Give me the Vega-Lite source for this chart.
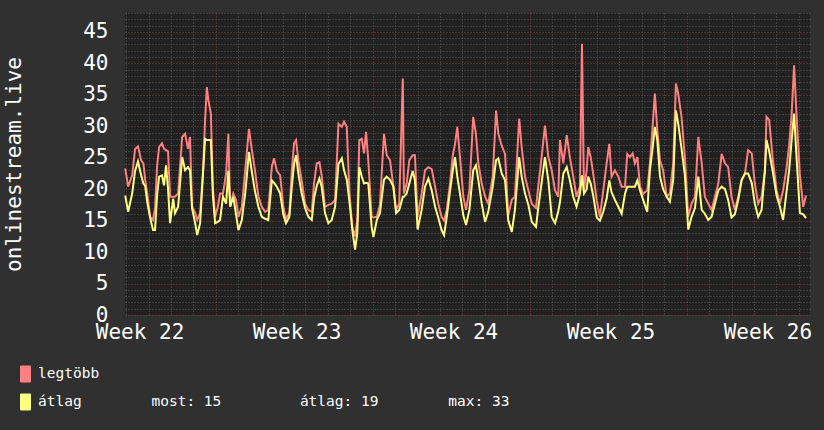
{
  "$schema": "https://vega.github.io/schema/vega-lite/v6.json",
  "width": 685,
  "height": 302,
  "autosize": {"type": "none"},
  "padding": {"left": 125, "top": 13, "right": 14, "bottom": 115},
  "background": "#303030",
  "config": {"view": {"fill": "#212121", "stroke": null}, "font": "DejaVu Sans Mono"},
  "data": {"values": [
    {"t":-0.04,"max":23.3,"avg":19.0},{"t":0.09,"max":20.4,"avg":16.4},{"t":0.27,"max":22.2,"avg":19.3},{"t":0.40,"max":26.4,"avg":22.9},
    {"t":0.53,"max":26.8,"avg":24.4},{"t":0.67,"max":24.6,"avg":22.2},{"t":0.77,"max":24.1,"avg":20.9},{"t":0.85,"max":21.5,"avg":20.5},
    {"t":0.94,"max":19.3,"avg":18.0},{"t":1.07,"max":15.6,"avg":15.5},{"t":1.20,"max":15.1,"avg":13.5},{"t":1.29,"max":17.0,"avg":13.5},
    {"t":1.38,"max":23.6,"avg":19.0},{"t":1.47,"max":26.7,"avg":22.0},{"t":1.60,"max":27.3,"avg":22.2},{"t":1.69,"max":26.4,"avg":20.6},
    {"t":1.78,"max":26.2,"avg":23.8},{"t":1.87,"max":26.0,"avg":20.0},{"t":1.96,"max":18.8,"avg":14.6},{"t":2.10,"max":18.8,"avg":18.5},
    {"t":2.18,"max":18.8,"avg":16.2},{"t":2.32,"max":19.3,"avg":17.2},{"t":2.50,"max":28.3,"avg":25.1},{"t":2.63,"max":28.8,"avg":23.0},
    {"t":2.76,"max":26.4,"avg":23.5},{"t":2.85,"max":28.3,"avg":23.0},{"t":2.94,"max":17.2,"avg":17.0},{"t":3.08,"max":16.2,"avg":14.6},
    {"t":3.17,"max":15.1,"avg":12.7},{"t":3.30,"max":16.2,"avg":14.6},{"t":3.43,"max":22.9,"avg":22.5},{"t":3.52,"max":30.9,"avg":28.0},
    {"t":3.60,"max":36.2,"avg":27.8},{"t":3.67,"max":34.1,"avg":27.8},{"t":3.78,"max":32.0,"avg":27.8},{"t":3.87,"max":20.4,"avg":19.0},
    {"t":3.97,"max":15.6,"avg":14.6},{"t":4.09,"max":17.2,"avg":14.8},{"t":4.19,"max":19.3,"avg":15.1},{"t":4.32,"max":19.3,"avg":18.8},
    {"t":4.46,"max":22.5,"avg":17.7},{"t":4.56,"max":28.8,"avg":22.9},{"t":4.64,"max":17.2,"avg":17.2},{"t":4.78,"max":19.3,"avg":18.8},
    {"t":4.90,"max":18.3,"avg":16.0},{"t":5.01,"max":15.6,"avg":13.5},{"t":5.16,"max":17.2,"avg":15.1},{"t":5.31,"max":23.0,"avg":19.3},
    {"t":5.48,"max":29.6,"avg":25.9},{"t":5.60,"max":26.4,"avg":22.9},{"t":5.75,"max":22.9,"avg":19.6},{"t":5.90,"max":18.8,"avg":17.2},
    {"t":6.05,"max":17.2,"avg":15.6},{"t":6.20,"max":16.4,"avg":15.3},{"t":6.34,"max":16.7,"avg":15.1},{"t":6.50,"max":23.6,"avg":21.4},
    {"t":6.60,"max":24.9,"avg":21.0},{"t":6.72,"max":22.9,"avg":20.4},{"t":6.87,"max":22.2,"avg":19.3},{"t":7.01,"max":17.2,"avg":16.0},
    {"t":7.13,"max":15.3,"avg":14.6},{"t":7.28,"max":16.2,"avg":15.6},{"t":7.39,"max":22.9,"avg":20.4},{"t":7.49,"max":27.3,"avg":24.0},
    {"t":7.58,"max":27.8,"avg":25.4},{"t":7.68,"max":24.6,"avg":22.5},{"t":7.83,"max":21.4,"avg":19.3},{"t":7.98,"max":17.7,"avg":17.0},
    {"t":8.13,"max":16.7,"avg":15.6},{"t":8.28,"max":16.4,"avg":15.1},{"t":8.38,"max":20.9,"avg":18.5},{"t":8.50,"max":24.1,"avg":20.5},
    {"t":8.62,"max":24.3,"avg":21.7},{"t":8.72,"max":22.2,"avg":20.4},{"t":8.87,"max":17.2,"avg":16.2},{"t":9.02,"max":17.5,"avg":14.6},
    {"t":9.17,"max":17.7,"avg":15.1},{"t":9.32,"max":18.3,"avg":17.2},{"t":9.47,"max":30.4,"avg":24.0},{"t":9.62,"max":29.9,"avg":24.9},
    {"t":9.72,"max":30.7,"avg":23.0},{"t":9.84,"max":29.9,"avg":21.5},{"t":9.96,"max":19.3,"avg":18.0},{"t":10.09,"max":14.0,"avg":13.5},
    {"t":10.21,"max":12.5,"avg":10.4},{"t":10.31,"max":15.1,"avg":13.0},{"t":10.40,"max":27.8,"avg":23.5},{"t":10.51,"max":28.0,"avg":22.0},
    {"t":10.61,"max":25.7,"avg":20.9},{"t":10.70,"max":29.1,"avg":21.0},{"t":10.80,"max":24.6,"avg":20.9},{"t":10.95,"max":15.6,"avg":14.0},
    {"t":11.03,"max":15.5,"avg":12.4},{"t":11.18,"max":15.6,"avg":15.1},{"t":11.32,"max":17.5,"avg":16.2},{"t":11.50,"max":28.8,"avg":21.5},
    {"t":11.62,"max":25.4,"avg":22.0},{"t":11.77,"max":24.6,"avg":21.5},{"t":11.92,"max":20.4,"avg":20.4},{"t":12.04,"max":16.7,"avg":16.2},
    {"t":12.18,"max":17.7,"avg":16.7},{"t":12.34,"max":37.6,"avg":18.8},{"t":12.39,"max":19.3,"avg":18.8},{"t":12.51,"max":20.9,"avg":19.3},
    {"t":12.63,"max":24.6,"avg":20.9},{"t":12.78,"max":25.4,"avg":22.9},{"t":12.88,"max":25.4,"avg":21.4},{"t":13.00,"max":15.6,"avg":13.6},
    {"t":13.18,"max":19.3,"avg":16.7},{"t":13.33,"max":23.0,"avg":20.4},{"t":13.48,"max":23.5,"avg":21.7},{"t":13.63,"max":23.2,"avg":19.8},
    {"t":13.78,"max":20.4,"avg":17.2},{"t":13.92,"max":17.7,"avg":15.5},{"t":14.07,"max":15.6,"avg":13.5},{"t":14.18,"max":15.0,"avg":12.7},
    {"t":14.30,"max":16.7,"avg":15.6},{"t":14.45,"max":21.0,"avg":19.8},{"t":14.57,"max":25.4,"avg":23.0},{"t":14.67,"max":27.2,"avg":25.1},
    {"t":14.77,"max":29.9,"avg":22.0},{"t":14.89,"max":25.1,"avg":19.3},{"t":15.04,"max":18.8,"avg":15.8},{"t":15.16,"max":16.7,"avg":14.3},
    {"t":15.31,"max":19.9,"avg":16.7},{"t":15.48,"max":31.5,"avg":23.0},{"t":15.60,"max":28.8,"avg":23.8},{"t":15.71,"max":24.1,"avg":21.4},
    {"t":15.86,"max":20.9,"avg":17.7},{"t":16.01,"max":18.8,"avg":14.8},{"t":16.15,"max":17.7,"avg":16.4},{"t":16.35,"max":22.0,"avg":20.4},
    {"t":16.50,"max":32.5,"avg":24.6},{"t":16.60,"max":28.8,"avg":24.9},{"t":16.75,"max":26.9,"avg":22.5},{"t":16.90,"max":25.6,"avg":21.4},
    {"t":17.04,"max":15.8,"avg":15.1},{"t":17.20,"max":18.3,"avg":13.2},{"t":17.34,"max":18.8,"avg":16.7},{"t":17.53,"max":31.2,"avg":25.1},
    {"t":17.64,"max":26.7,"avg":22.0},{"t":17.79,"max":22.0,"avg":19.3},{"t":17.94,"max":19.8,"avg":17.5},{"t":18.09,"max":17.7,"avg":14.8},
    {"t":18.28,"max":17.0,"avg":14.0},{"t":18.38,"max":20.4,"avg":17.0},{"t":18.53,"max":25.1,"avg":21.0},{"t":18.68,"max":30.1,"avg":25.1},
    {"t":18.83,"max":25.1,"avg":21.4},{"t":18.98,"max":23.0,"avg":15.6},{"t":19.13,"max":19.8,"avg":14.6},{"t":19.27,"max":18.8,"avg":16.4},
    {"t":19.35,"max":27.8,"avg":18.0},{"t":19.50,"max":24.1,"avg":22.5},{"t":19.65,"max":28.6,"avg":23.5},{"t":19.79,"max":25.1,"avg":21.4},
    {"t":19.94,"max":22.0,"avg":18.8},{"t":20.09,"max":18.8,"avg":17.2},{"t":20.24,"max":20.4,"avg":19.3},{"t":20.33,"max":43.1,"avg":22.2},
    {"t":20.42,"max":19.8,"avg":19.3},{"t":20.54,"max":23.0,"avg":20.0},{"t":20.61,"max":26.7,"avg":22.0},{"t":20.72,"max":25.1,"avg":20.9},
    {"t":20.83,"max":22.5,"avg":19.0},{"t":20.99,"max":18.2,"avg":15.5},{"t":21.13,"max":15.6,"avg":15.0},{"t":21.28,"max":19.8,"avg":16.4},
    {"t":21.43,"max":24.1,"avg":18.5},{"t":21.55,"max":27.2,"avg":21.4},{"t":21.65,"max":22.0,"avg":19.5},{"t":21.80,"max":23.0,"avg":18.3},
    {"t":21.95,"max":22.0,"avg":17.2},{"t":22.10,"max":20.4,"avg":16.1},{"t":22.25,"max":20.4,"avg":19.3},{"t":22.35,"max":25.6,"avg":20.4},
    {"t":22.47,"max":25.1,"avg":20.4},{"t":22.59,"max":25.7,"avg":20.4},{"t":22.69,"max":24.1,"avg":20.4},{"t":22.80,"max":25.1,"avg":21.4},
    {"t":22.92,"max":20.4,"avg":19.8},{"t":23.06,"max":19.3,"avg":18.3},{"t":23.24,"max":19.8,"avg":16.4},{"t":23.36,"max":24.1,"avg":23.0},
    {"t":23.48,"max":29.9,"avg":26.5},{"t":23.58,"max":35.2,"avg":29.9},{"t":23.69,"max":29.4,"avg":27.8},{"t":23.81,"max":24.6,"avg":22.0},
    {"t":23.95,"max":23.0,"avg":20.0},{"t":24.11,"max":18.8,"avg":18.8},{"t":24.25,"max":19.3,"avg":18.0},{"t":24.40,"max":24.1,"avg":21.5},
    {"t":24.52,"max":36.8,"avg":32.5},{"t":24.62,"max":35.2,"avg":30.5},{"t":24.77,"max":31.5,"avg":26.5},{"t":24.92,"max":25.1,"avg":22.2},
    {"t":25.07,"max":15.6,"avg":13.6},{"t":25.22,"max":17.7,"avg":15.6},{"t":25.37,"max":18.8,"avg":17.0},{"t":25.52,"max":28.3,"avg":22.0},
    {"t":25.67,"max":24.1,"avg":16.7},{"t":25.81,"max":18.8,"avg":16.1},{"t":25.96,"max":17.7,"avg":15.1},{"t":26.11,"max":16.7,"avg":15.6},
    {"t":26.26,"max":18.8,"avg":17.7},{"t":26.41,"max":20.9,"avg":19.8},{"t":26.56,"max":25.6,"avg":20.4},{"t":26.71,"max":24.1,"avg":20.0},
    {"t":26.85,"max":23.5,"avg":18.3},{"t":27.00,"max":18.8,"avg":15.5},{"t":27.15,"max":16.7,"avg":16.0},{"t":27.30,"max":18.8,"avg":18.3},
    {"t":27.45,"max":21.5,"avg":21.4},{"t":27.60,"max":22.5,"avg":22.5},{"t":27.74,"max":26.2,"avg":22.5},{"t":27.90,"max":25.7,"avg":21.0},
    {"t":28.04,"max":20.9,"avg":17.7},{"t":28.19,"max":17.7,"avg":15.6},{"t":28.34,"max":18.8,"avg":16.7},{"t":28.49,"max":23.0,"avg":23.0},
    {"t":28.56,"max":31.5,"avg":27.8},{"t":28.68,"max":31.0,"avg":26.0},{"t":28.83,"max":25.1,"avg":23.0},{"t":29.01,"max":19.8,"avg":19.0},
    {"t":29.16,"max":17.7,"avg":17.2},{"t":29.30,"max":19.8,"avg":15.1},{"t":29.46,"max":23.5,"avg":19.8},{"t":29.57,"max":27.0,"avg":23.0},
    {"t":29.68,"max":31.8,"avg":27.8},{"t":29.79,"max":39.7,"avg":32.0},{"t":29.90,"max":31.8,"avg":25.1},{"t":30.05,"max":22.2,"avg":16.2},
    {"t":30.20,"max":17.2,"avg":16.0},{"t":30.32,"max":19.0,"avg":15.4}
  ]},
  "transform": [{"fold": ["max", "avg"], "as": ["series", "value"]}],
  "encoding": {
    "x": {
      "field": "t", "type": "quantitative",
      "scale": {"domain": [-0.05, 30.5], "nice": false, "zero": false},
      "axis": {
        "orient": "bottom", "title": null,
        "values": [0,1,2,3,4,5,6,7,8,9,10,11,12,13,14,15,16,17,18,19,20,21,22,23,24,25,26,27,28,29,30,0.6,7.6,14.6,21.6,28.6],
        "grid": true,
        "gridColor": {"condition": {"test": "datum.value == 4 || datum.value == 11 || datum.value == 18 || datum.value == 25", "value": "#8a3a3a"}, "value": "#5a5a5a"},
        "gridOpacity": {"condition": {"test": "datum.value % 1 != 0", "value": 0}, "value": 1},
        "gridDash": [1, 2],
        "gridWidth": 1,
        "ticks": false, "tickSize": 0, "domain": false,
        "labelExpr": "datum.value % 1 != 0 ? 'Week ' + (22 + round((datum.value - 0.6) / 7)) : ''",
        "labelFont": "DejaVu Sans Mono", "labelFontSize": 21, "labelColor": "#ffffff",
        "labelBaseline": "alphabetic", "labelPadding": 23,
        "labelOverlap": false, "labelFlush": false, "labelBound": false
      }
    },
    "y": {
      "field": "value", "type": "quantitative",
      "scale": {"domain": [0, 48], "nice": false},
      "axis": {
        "title": "onlinestream.live",
        "values": [0,1,2,3,4,5,6,7,8,9,10,11,12,13,14,15,16,17,18,19,20,21,22,23,24,25,26,27,28,29,30,31,32,33,34,35,36,37,38,39,40,41,42,43,44,45,46,47,48],
        "grid": true,
        "gridColor": {"condition": {"test": "datum.value % 5 == 0", "value": "#8a3a3a"}, "value": "#5a5a5a"},
        "gridDash": [1, 2],
        "gridWidth": 1,
        "ticks": false, "tickSize": 0, "domain": false,
        "labelExpr": "datum.value % 5 == 0 ? datum.label : ''",
        "labelFont": "DejaVu Sans Mono", "labelFontSize": 21, "labelColor": "#ffffff",
        "labelPadding": 17, "labelOverlap": false, "labelFlush": false, "labelBound": false,
        "titleFont": "DejaVu Sans Mono", "titleFontSize": 21, "titleColor": "#ffffff", "titleFontWeight": "normal",
        "titleX": -111, "titleY": 151, "titleBaseline": "middle", "titleAlign": "center", "titleAngle": -90
      }
    },
    "color": {
      "field": "series", "type": "nominal",
      "scale": {"domain": ["max", "avg"], "range": ["#ff8080", "#ffff80"]},
      "legend": {
        "title": null, "orient": "none", "legendX": -108, "legendY": 352.5, "direction": "vertical",
        "symbolType": "M-0.625,-1H0.625V1H-0.625Z", "symbolSize": 256,
        "symbolStrokeColor": "#000000", "symbolStrokeWidth": 1,
        "labelExpr": "datum.value == 'max' ? 'legtöbb' : 'átlag\u00a0\u00a0\u00a0\u00a0\u00a0\u00a0\u00a0\u00a0most: 15\u00a0\u00a0\u00a0\u00a0\u00a0\u00a0\u00a0\u00a0\u00a0átlag: 19\u00a0\u00a0\u00a0\u00a0\u00a0\u00a0\u00a0\u00a0max: 33'",
        "labelFont": "DejaVu Sans Mono", "labelFontSize": 14.5, "labelColor": "#ffffff",
        "labelLimit": 1000, "labelOffset": 4, "rowPadding": 7, "padding": 0, "offset": 0,
        "encode": {"symbols": {"update": {"fill": {"scale": "color", "field": "value"}, "stroke": {"value": "#000000"}, "strokeWidth": {"value": 1}, "opacity": {"value": 1}}}}
      }
    }
  },
  "layer": [
    {"transform": [{"filter": "datum.series == 'max'"}], "mark": {"type": "line", "strokeWidth": 2}},
    {"transform": [{"filter": "datum.series == 'avg'"}], "mark": {"type": "line", "strokeWidth": 2}}
  ]
}
